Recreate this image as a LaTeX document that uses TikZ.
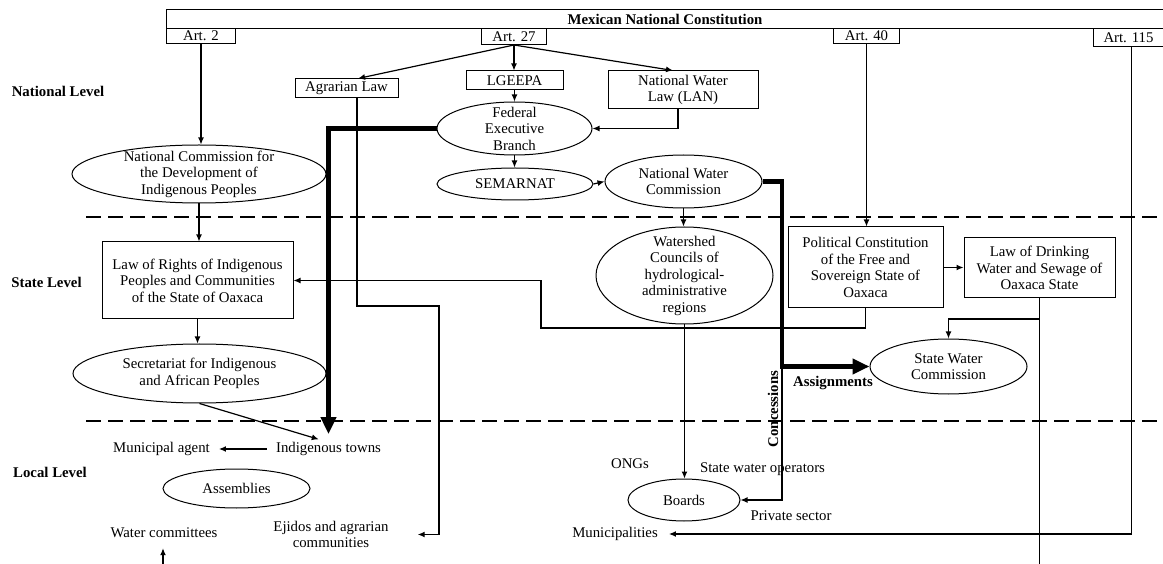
\documentclass[tikz,border=0pt]{standalone}
\usepackage{fontspec}
\setmainfont{Liberation Serif}
\usetikzlibrary{shapes.geometric,arrows.meta}
\tikzset{
  base/.style={font=\fontsize{14.8}{16.5}\selectfont, inner sep=1pt},
  bf/.style={font=\fontsize{14.8}{16.5}\selectfont\bfseries, inner sep=1pt},
  box/.style={draw, line width=1pt, rectangle, align=center, inner sep=0pt, font=\fontsize{14.8}{16.5}\selectfont},
  ell/.style={draw, line width=1pt, ellipse, inner sep=0pt},
  txt/.style={base, align=center},
  arr/.style={line width=1.2pt, -{Latex[length=7pt,width=6pt]}},
  ln/.style={line width=1.2pt},
  thickarr/.style={line width=4.5pt, -{Triangle[length=17pt,width=15pt]}},
  sep/.style={dash pattern=on 15pt off 7pt, line width=1.4pt},
}
\begin{document}
\begin{tikzpicture}[x=1pt,y=-1pt]
\useasboundingbox (0,0) rectangle (1163,564);
% level separators
\draw[sep] (86,217) -- (1163,217);
\draw[sep] (86,421) -- (1160,421);

% constitution bar and articles
\node[box, font=\fontsize{14.8}{16.5}\selectfont\bfseries, minimum width=997pt, minimum height=19pt, anchor=north west] (const) at (166,9) {Mexican National Constitution};
\node[box, minimum width=69pt, minimum height=15pt, anchor=north west] (art2) at (166,28) {Art. 2};
\node[box, minimum width=65pt, minimum height=16pt, anchor=north west] (art27) at (481,28) {Art. 27};
\node[box, minimum width=66pt, minimum height=15pt, anchor=north west] (art40) at (833,28) {Art. 40};
\node[box, minimum width=70pt, minimum height=18pt, anchor=north west] (art115) at (1093,28) {Art. 115};

% level labels
\node[bf] (natl) at (58,91) {National Level};
\node[bf] (statel) at (46.5,282) {State Level};
\node[bf] (locl) at (50,472) {Local Level};

% rectangles
\node[box, minimum width=103pt, minimum height=19pt] (agrarian) at (346.5,88.5) {Agrarian Law};
\node[box, minimum width=97pt, minimum height=19pt] (lgeepa) at (514.5,80.5) {LGEEPA};
\node[box, minimum width=150pt, minimum height=38pt] (lan) at (683,90) {National Water\\Law (LAN)};
\node[box, minimum width=191pt, minimum height=77pt] (lawrights) at (197.5,280.5) {Law of Rights of Indigenous\\Peoples and Communities\\of the State of Oaxaca};
\node[box, minimum width=155pt, minimum height=81pt] (polconst) at (865.5,267.5) {Political Constitution\\of the Free and\\Sovereign State of\\Oaxaca};
\node[box, minimum width=151pt, minimum height=60pt] (ldw) at (1039.5,268) {Law of Drinking\\Water and Sewage of\\Oaxaca State};

% ellipses
\node[ell, minimum width=254pt, minimum height=58pt] (ncdip) at (199,174) {};
\node[txt] (ncdipT) at (ncdip) {National Commission for\\the Development of\\Indigenous Peoples};
\node[ell, minimum width=155pt, minimum height=53pt] (feb) at (514.5,128.5) {};
\node[txt] (febT) at (feb) {Federal\\Executive\\Branch};
\node[ell, minimum width=156pt, minimum height=32pt] (semarnat) at (515,184) {};
\node[txt] (semarnatT) at (semarnat) {SEMARNAT};
\node[ell, minimum width=157pt, minimum height=53pt] (nwc) at (683.5,181.5) {};
\node[txt] (nwcT) at (nwc) {National Water\\Commission};
\node[ell, minimum width=177pt, minimum height=97pt] (watershed) at (684.5,275.5) {};
\node[txt] (watershedT) at (watershed) {Watershed\\Councils of\\hydrological-\\administrative\\regions};
\node[ell, minimum width=253pt, minimum height=59pt] (secretariat) at (199.5,373.5) {};
\node[txt] (secretariatT) at (secretariat) {Secretariat for Indigenous\\and African Peoples};
\node[ell, minimum width=157pt, minimum height=55pt] (swc) at (948.5,366.5) {};
\node[txt] (swcT) at (swc) {State Water\\Commission};
\node[ell, minimum width=147pt, minimum height=39pt] (assemblies) at (236.5,488.5) {};
\node[txt] (assembliesT) at (assemblies) {Assemblies};
\node[ell, minimum width=112pt, minimum height=42pt] (boards) at (684,500) {};
\node[txt] (boardsT) at (boards) {Boards};

% free texts
\node[txt] (munag) at (161.5,449) {Municipal agent};
\node[txt] (indig) at (328.5,449) {Indigenous towns};
\node[txt] (wc) at (164,533) {Water committees};
\node[txt] (ejidos) at (331,534.5) {Ejidos and agrarian\\communities};
\node[txt] (ongs) at (630,464) {ONGs};
\node[txt] (swo) at (762.5,469) {State water operators};
\node[txt] (priv) at (791,516) {Private sector};
\node[txt] (munic) at (615,534) {Municipalities};
\node[bf] (assign) at (833,383) {Assignments};
\node[bf, rotate=90] (conc) at (773,409) {Concessions};

% coordinates
\coordinate (cbend) at (782,366.5);
\coordinate (ldwout) at (1039.5,564);
\coordinate (ldwj) at (1039.5,319);
\coordinate (wcin) at (163,564);

% connectors
\draw[arr] (art2.south) -- (art2.south |- ncdip.north);
\draw[arr] (art27.south) -- ([xshift=11.5pt]agrarian.north);
\draw[arr] (art27.south) -- (art27.south |- lgeepa.north);
\draw[arr] (art27.south) -- ([xshift=-10pt]lan.north);
\draw[arr] (lgeepa.south) -- (lgeepa.south |- feb.north);
\draw[arr] ([xshift=-5pt]lan.south) |- (feb.east);
\draw[arr] (feb.south) -- (feb.south |- semarnat.north);
\draw[arr] (semarnat.east) -- (nwc.west);
\draw[arr] (nwc.south) -- (nwc.south |- watershed.north);
\draw[arr] (watershed.south) -- (watershed.south |- boards.north);
\draw[arr] (ncdip.south) -- (ncdip.south |- lawrights.north);
\draw[arr] (lawrights.south) -- (lawrights.south |- secretariat.north);
\draw[arr, shorten >=6pt] (secretariat.south) -- ([xshift=-4pt]indig.north);
\draw[thickarr, shorten >=7pt] (feb.west) -| (indig.north);
\draw[thickarr] (nwc.east) -| (cbend) -- (swc.west);
\draw[arr] (cbend) |- (boards.east);
\draw[arr, shorten <=8pt, shorten >=8pt] (indig.west) -- (munag.east);
\draw[arr, shorten >=28pt] ([xshift=10.5pt]agrarian.south) |- (439,306) |- (ejidos.east);
\draw[arr] (polconst.south) |- (541,328) |- (lawrights.east);
\draw[arr] (art40.south) -- (art40.south |- polconst.north);
\draw[arr] (polconst.east) -- (polconst.east -| ldw.west);
\draw[ln] (ldw.south) -- (ldwout);
\draw[arr] (ldwj) -| (swc.north);
\draw[arr, shorten >=10pt] ([xshift=3pt]art115.south) |- (munic.east);
\draw[arr, shorten >=9pt] (wcin) -- (wcin |- wc.south);
\end{tikzpicture}
\end{document}
